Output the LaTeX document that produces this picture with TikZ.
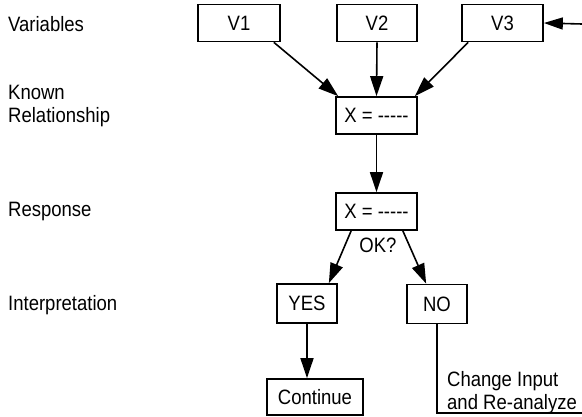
\documentclass[tikz,border=0pt]{standalone}
\usepackage{fontspec}
\setmainfont{Liberation Sans}[FakeStretch=0.89]
\usetikzlibrary{arrows.meta,positioning,calc}

\tikzset{
  box/.style={draw, line width=1.7pt, minimum height=37pt, inner sep=4pt},
  flow/.style={line width=1.6pt, -{Triangle[length=20pt,width=13pt]}},
  rowlabel/.style={anchor=west, align=left, inner sep=0pt}
}
\newcommand{\dashrun}{-\kern0pt-\kern0pt-\kern0pt-\kern0pt-}

\begin{document}
\begin{tikzpicture}[x=1pt, y=-1pt, font=\fontsize{20.8}{23}\selectfont]
    \useasboundingbox (0,0) rectangle (582,417);

    % Left side: row labels
    \node[rowlabel] (lvar) at (8,24) {Variables};
    \node[rowlabel] (lrel) at (8,106) {Known\\Relationship};
    \node[rowlabel] (lres) at (8,212) {Response};
    \node[rowlabel] (lint) at (8,305) {Interpretation};

    % Variables
    \node[box, minimum width=82pt] (v1) at (239,23) {V1};
    \node[box, minimum width=80pt] (v2) at (377,23) {V2};
    \node[box, minimum width=81pt] (v3) at (502.5,23) {V3};

    % Relationship and response
    \node[box, minimum width=81pt] (x1) at (376.5,115.5) {X = \dashrun};
    \node[box, minimum width=81pt] (x2) at (376.5,211.5) {X = \dashrun};
    \node (ok) at (378,245) {OK?};

    % Interpretation
    \node[box, minimum width=60pt, minimum height=39pt] (yes) at (307,303.5) {YES};
    \node[box, minimum width=60pt, minimum height=39pt] (no) at (437,304) {NO};
    \node[box, minimum width=96pt, minimum height=36pt] (cont) at (315,397) {Continue};
    \node[anchor=north west, align=left, inner sep=0pt] (redo) at (447,371) {Change Input\\and Re-analyze};

    \draw[flow] ([xshift=-7pt]v1.south east) -- ([xshift=3pt]x1.north west);
    \draw[flow] (v2.south) -- (x1.north);
    \draw[flow] ([xshift=7pt]v3.south west) -- ([xshift=-3pt]x1.north east);
    \draw[flow] (x1.south) -- (x2.north);
    \draw[flow] ([xshift=16pt]x2.south west) -- ([xshift=-9pt]yes.north east);
    \draw[flow] ([xshift=-15pt]x2.south east) -- ([xshift=20pt]no.north west);
    \draw[flow] (yes.south) -- (yes.south |- cont.north);

    % feedback loop, leaves the picture on the right
    \coordinate (loopout) at (582,413);
    \coordinate (loopin) at (582,24);
    \draw[line width=1.6pt] (no.south) |- (loopout);
    \draw[line width=1.6pt, -{Triangle[length=19pt,width=12pt]}] (loopin) -- (v3.east);
  \end{tikzpicture}
\end{document}
